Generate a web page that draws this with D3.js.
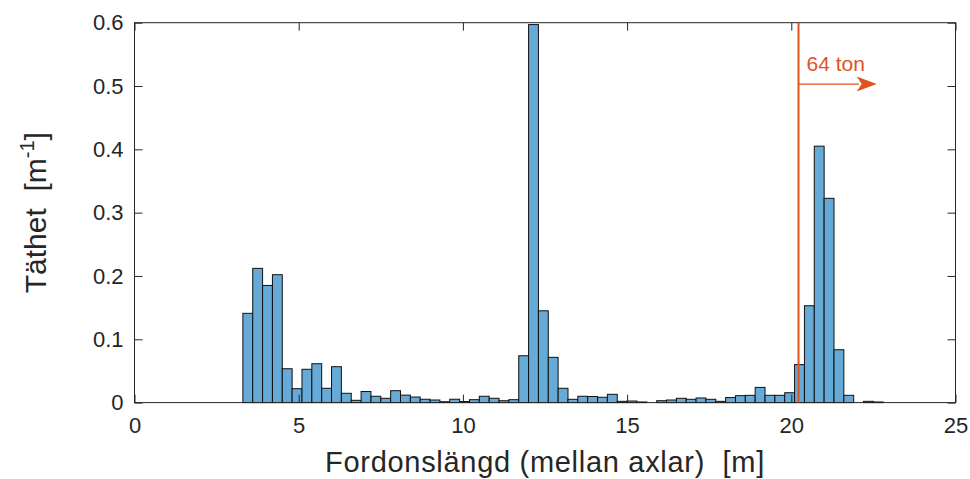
<!DOCTYPE html>
<html><head><meta charset="utf-8">
<script src="https://cdn.jsdelivr.net/npm/d3@7"></script>
<style>body{margin:0;background:#fff;} text{font-family:"Liberation Sans",Arial,Helvetica,sans-serif;white-space:pre;}</style>
</head><body>
<svg id="chart" width="970" height="479"></svg>
<script>
// ---- data ----
const binStart = 3.3;
const binWidth = 0.3;
const density = [
  0.141, 0.212, 0.185, 0.202, 0.0535, 0.022, 0.0526, 0.0614, 0.0226, 0.0567,
  0.0147, 0.0036, 0.0175, 0.010, 0.0068, 0.0188, 0.0118, 0.0088, 0.0053, 0.0041,
  0.0014, 0.0053, 0.0017, 0.0046, 0.010, 0.0068, 0.003, 0.0046, 0.074, 0.597,
  0.145, 0.0715, 0.0226, 0.0052, 0.010, 0.0096, 0.0084, 0.0131, 0.002, 0.0025,
  0.001, 0, 0.003, 0.0041, 0.0068, 0.0052, 0.0073, 0.0052, 0.002, 0.008,
  0.011, 0.0115, 0.024, 0.0115, 0.0115, 0.0156, 0.060, 0.153, 0.405, 0.3226,
  0.0835, 0.0115, 0, 0.002, 0.001
];
const xTicks = [0, 5, 10, 15, 20, 25];
const yTicks = [0, 0.1, 0.2, 0.3, 0.4, 0.5, 0.6];
const yTickLabels = ["0", "0.1", "0.2", "0.3", "0.4", "0.5", "0.6"];
const limitX = 20.22;
const arrowEndX = 22.6;
const arrowY = 0.503;
const limitLabel = "64 ton";
const xLabel = "Fordonslängd (mellan axlar)  [m]";
const yLabelMain = "Täthet  [m";
const yLabelSup = "-1";
const yLabelEnd = "]";

// ---- layout ----
const svg = d3.select("#chart");
const L = 134.5, R = 955.5, T = 22.7, B = 402.6;
const x = d3.scaleLinear().domain([0, 25]).range([L, R]);
const y = d3.scaleLinear().domain([0, 0.6]).range([B, T]);
const axisColor = "#262626";
const barFill = "#66aad7";
const red = "#e0531f";

const bins = density.map((v, i) => ({x0: binStart + i * binWidth, x1: binStart + (i + 1) * binWidth, v}));

// bars
svg.append("g").selectAll("rect").data(bins.filter(d => d.v > 0)).join("rect")
  .attr("x", d => x(d.x0))
  .attr("width", d => x(d.x1) - x(d.x0))
  .attr("y", d => y(d.v))
  .attr("height", d => y(0) - y(d.v))
  .attr("fill", barFill)
  .attr("stroke", "#111")
  .attr("stroke-width", 1);

// axes (inward ticks, box)
const tickLen = 8;
const gx = svg.append("g").attr("transform", `translate(0,${B})`)
  .call(d3.axisBottom(x).tickValues(xTicks).tickSizeInner(-tickLen).tickSizeOuter(0).tickPadding(15).tickFormat(d3.format("d")));
const gy = svg.append("g").attr("transform", `translate(${L},0)`)
  .call(d3.axisLeft(y).tickValues(yTicks).tickSizeInner(-tickLen).tickSizeOuter(0).tickPadding(11).tickFormat((d, i) => yTickLabels[i]));
const gxt = svg.append("g").attr("transform", `translate(0,${T})`)
  .call(d3.axisTop(x).tickValues(xTicks).tickSizeInner(-tickLen).tickSizeOuter(0).tickFormat(""));
const gyr = svg.append("g").attr("transform", `translate(${R},0)`)
  .call(d3.axisRight(y).tickValues(yTicks).tickSizeInner(-tickLen).tickSizeOuter(0).tickFormat(""));
[gx, gy, gxt, gyr].forEach(g => {
  g.select(".domain").remove();
  g.selectAll("line").attr("stroke", axisColor);
  g.selectAll("text").attr("fill", axisColor).style("font-size", "22px");
});
svg.append("rect").attr("x", L).attr("y", T).attr("width", R - L).attr("height", B - T)
  .attr("fill", "none").attr("stroke", axisColor).attr("stroke-width", 1);

// limit line
svg.append("line").attr("x1", x(limitX)).attr("x2", x(limitX)).attr("y1", T).attr("y2", B)
  .attr("stroke", red).attr("stroke-width", 2);
svg.append("line").attr("x1", x(limitX)).attr("x2", x(arrowEndX) - 18).attr("y1", y(arrowY)).attr("y2", y(arrowY))
  .attr("stroke", red).attr("stroke-width", 1.2);
const ax = x(arrowEndX), ay = y(arrowY);
svg.append("path").attr("d", `M${ax},${ay} L${ax - 20},${ay - 7.5} L${ax - 15},${ay} L${ax - 20},${ay + 7.5} Z`).attr("fill", red);
svg.append("text").attr("x", x(limitX) + 8).attr("y", y(arrowY) - 13).attr("fill", red)
  .style("font-size", "21px").text(limitLabel);

// axis labels
svg.append("text").attr("x", (L + R) / 2).attr("y", 472).attr("text-anchor", "middle")
  .attr("fill", axisColor).style("font-size", "29px").style("letter-spacing", "0.7px").text(xLabel);
const yl = svg.append("text").attr("transform", `translate(46,${(T + B) / 2}) rotate(-90)`)
  .attr("text-anchor", "middle").attr("fill", axisColor).style("font-size", "30px");
yl.append("tspan").text(yLabelMain);
yl.append("tspan").attr("dy", -12).style("font-size", "20px").text(yLabelSup);
yl.append("tspan").attr("dy", 12).text(yLabelEnd);
</script>
</body></html>
